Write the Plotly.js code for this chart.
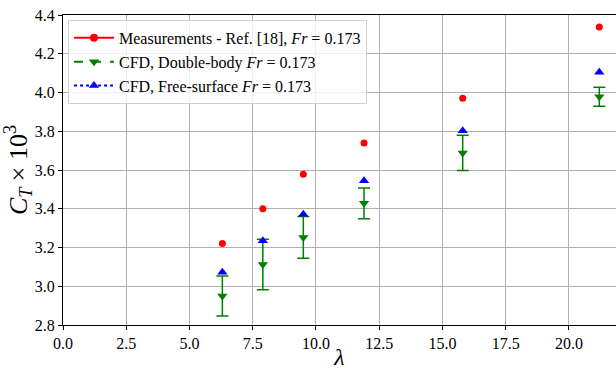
<!DOCTYPE html>
<html>
<head>
<meta charset="utf-8">
<script src="https://cdn.plot.ly/plotly-3.0.1.min.js"></script>
<style>html,body{margin:0;padding:0;background:#fff;}#chart{width:616px;height:370px;}</style>
</head>
<body>
<div id="chart"></div>
<script>
// Data
const lambda = [6.3, 7.9, 9.5, 11.9, 15.8, 21.2];
const measured = [3.22, 3.40, 3.578, 3.74, 3.97, 4.338];
const doubleBody = [2.95, 3.112, 3.252, 3.428, 3.688, 3.978];
const doubleBodyErr = [0.103, 0.13, 0.108, 0.079, 0.091, 0.049];
const freeSurface = [3.072, 3.235, 3.372, 3.544, 3.803, 4.104];
const legendNames = [
  "Measurements - Ref. [18], <i>Fr</i> = 0.173",
  "CFD, Double-body <i>Fr</i> = 0.173",
  "CFD, Free-surface <i>Fr</i> = 0.173"
];
const xTickVals = [0, 2.5, 5, 7.5, 10, 12.5, 15, 17.5, 20];
const yTickVals = [2.8, 3.0, 3.2, 3.4, 3.6, 3.8, 4.0, 4.2, 4.4];

const serif = "Liberation Serif, DejaVu Serif, serif";

const traces = [
  {x: lambda, y: measured, mode: 'markers', type: 'scatter', showlegend: false,
   marker: {symbol: 'circle', size: 7, color: '#ff0000'}},
  {x: lambda, y: doubleBody, mode: 'markers', type: 'scatter', showlegend: false,
   marker: {symbol: 'triangle-down', size: 9, color: '#008000'},
   error_y: {type: 'data', array: doubleBodyErr, visible: true, color: '#008000', thickness: 1.5, width: 6}},
  {x: lambda, y: freeSurface, mode: 'markers', type: 'scatter', showlegend: false,
   marker: {symbol: 'triangle-up', size: 9, color: '#0000ff'}},
  // legend entries
  {x: [null], y: [null], mode: 'lines+markers', type: 'scatter', name: legendNames[0],
   line: {color: '#ff0000', width: 2, dash: 'solid'}, marker: {symbol: 'circle', size: 8, color: '#ff0000'}},
  {x: [null], y: [null], mode: 'lines+markers', type: 'scatter', name: legendNames[1],
   line: {color: '#008000', width: 2, dash: 'dash'}, marker: {symbol: 'triangle-down', size: 9, color: '#008000'}},
  {x: [null], y: [null], mode: 'lines+markers', type: 'scatter', name: legendNames[2],
   line: {color: '#0000ff', width: 2, dash: 'dot'}, marker: {symbol: 'triangle-up', size: 9, color: '#0000ff'}}
];

const layout = {
  width: 616, height: 370,
  margin: {l: 63, r: 0, t: 15, b: 45, pad: 0},
  paper_bgcolor: '#ffffff', plot_bgcolor: '#ffffff',
  font: {family: serif, color: '#000000', size: 16},
  showlegend: true,
  legend: {x: 0.009, y: 0.984, xanchor: 'left', yanchor: 'top',
    bgcolor: 'rgba(255,255,255,0.8)', bordercolor: '#d0d0d0', borderwidth: 1,
    font: {family: serif, size: 16, color: '#000000'}, tracegroupgap: 0,
    itemwidth: 40},
  xaxis: {
    range: [0, 21.86], tickvals: xTickVals, tickformat: '.1f',
    showgrid: true, gridcolor: '#b0b0b0', gridwidth: 1,
    showline: true, linecolor: '#000000', linewidth: 1, mirror: true,
    ticks: 'outside', ticklen: 4, tickcolor: '#000000',
    tickfont: {family: serif, size: 16}, zeroline: false,
    title: {text: '<i>λ</i>', font: {family: serif, size: 24}, standoff: 2}
  },
  yaxis: {
    range: [2.8, 4.4], tickvals: yTickVals, tickformat: '.1f',
    showgrid: true, gridcolor: '#b0b0b0', gridwidth: 1,
    showline: true, linecolor: '#000000', linewidth: 1, mirror: false,
    ticks: 'outside', ticklen: 4, tickcolor: '#000000',
    tickfont: {family: serif, size: 16}, zeroline: false,
    title: {text: '<i>C</i><sub><i>T</i></sub> × 10<sup>3</sup>', font: {family: serif, size: 26}, standoff: 6}
  }
};

Plotly.newPlot('chart', traces, layout, {staticPlot: true, displayModeBar: false});
</script>
</body>
</html>
